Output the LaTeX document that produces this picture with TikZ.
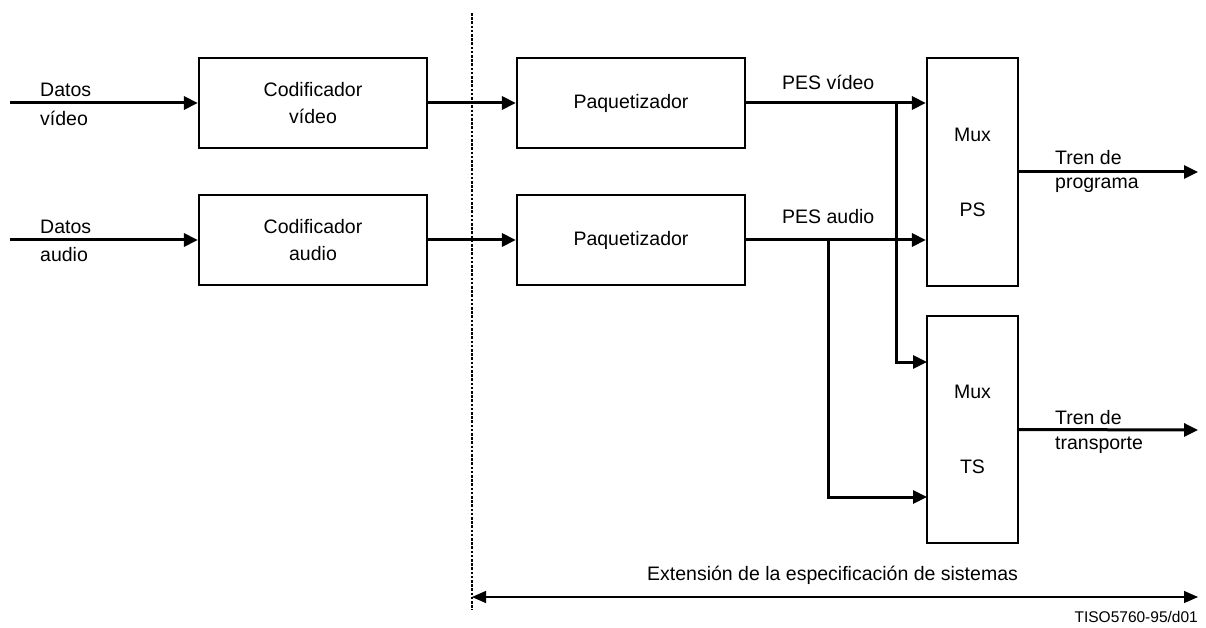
\documentclass[tikz,border=0pt]{standalone}
\usepackage{fontspec}
\setmainfont{Liberation Sans}
\usetikzlibrary{arrows.meta}
\begin{document}
\begin{tikzpicture}[x=1pt,y=-1pt,
  font=\fontsize{19.5}{27}\selectfont,
  blk/.style={draw,line width=2.2pt,minimum width=228pt,minimum height=90pt,inner sep=0pt,align=center},
  mux/.style={draw,line width=2.2pt,minimum width=91pt,minimum height=228pt,inner sep=0pt},
  arr/.style={line width=3pt,-{Triangle[length=14pt,width=13pt]}},
  lbl/.style={inner sep=0pt,anchor=west},
  dim/.style={line width=1.3pt,{Triangle[length=14pt,width=12pt]}-{Triangle[length=14pt,width=12pt]}}]
\useasboundingbox (0,0) rectangle (1206,628);
% blocks
\node[blk] (cv) at (313,103) {Codificador\\vídeo};
\node[blk] (ca) at (313,240) {Codificador\\audio};
\node[blk] (pv) at (631,103) {Paquetizador};
\node[blk] (pa) at (631,240) {Paquetizador};
\node[mux] (mps) at (972.5,172) {};
\node[mux,minimum height=227pt] (mts) at (972.5,429.5) {};
\node (mpsa) at (972.5,135) {Mux};
\node (mpsb) at (972.5,210) {PS};
\node (mtsa) at (972.5,392) {Mux};
\node (mtsb) at (972.5,467) {TS};
% coordinates
\coordinate (inv) at (10,103);
\coordinate (ina) at (10,240);
\coordinate (bv) at (896,103);
\coordinate (ba) at (828,240);
\coordinate (tsv) at (927,362);
\coordinate (tsa) at (927,497);
\coordinate (outps) at (1198,172);
\coordinate (outts) at (1198,430);
\coordinate (dtop) at (472,13);
\coordinate (dbot) at (472,610);
\coordinate (extl) at (472,597);
\coordinate (extr) at (1198,597);
% connectors
\draw[arr] (inv) -- (cv.west);
\draw[arr] (ina) -- (ca.west);
\draw[arr] (cv.east) -- (pv.west);
\draw[arr] (ca.east) -- (pa.west);
\draw[arr] (pv.east) -- (pv.east -| mps.west);
\draw[arr] (pa.east) -- (pa.east -| mps.west);
\draw[arr] (bv) |- (tsv);
\draw[arr] (ba) |- (tsa);
\draw[arr] (mps.east) -- (outps);
\draw[arr] (mts.east) -- (outts);
\draw[line width=2.6pt,dash pattern=on 2.6pt off 1.6pt] (dtop) -- (dbot);
\draw[dim] (extl) -- (extr);
% labels
\node[lbl] (l1) at (40,90) {Datos};
\node[lbl] (l2) at (40,118) {vídeo};
\node[lbl] (l3) at (40,227) {Datos};
\node[lbl] (l4) at (40,255) {audio};
\node[lbl] (l5) at (782,82) {PES vídeo};
\node[lbl] (l6) at (782,217) {PES audio};
\node[lbl] (l7) at (1055,158) {Tren de};
\node[lbl] (l8) at (1055,185) {programa};
\node[lbl] (l9) at (1055,418) {Tren de};
\node[lbl] (l10) at (1055,445) {transporte};
\node[inner sep=0pt,anchor=west] (ext) at (647,575) {Extensión de la especificación de sistemas};
\node[inner sep=0pt,anchor=east,font=\fontsize{15.5}{18}\selectfont] (tiso) at (1198,617) {TISO5760-95/d01};
\end{tikzpicture}
\end{document}
